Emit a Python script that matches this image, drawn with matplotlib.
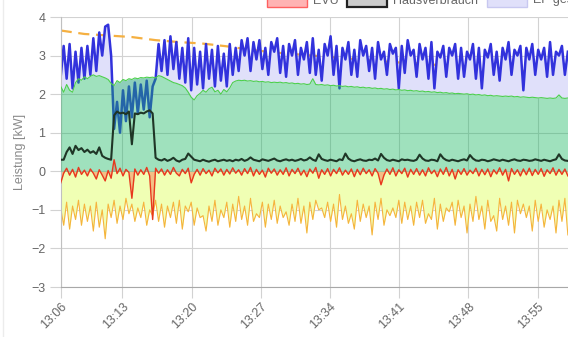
import matplotlib
matplotlib.use('Agg')
import matplotlib.pyplot as plt
from matplotlib.patches import Rectangle
from matplotlib.lines import Line2D
import numpy as np

plt.rcParams['font.family'] = ['Liberation Sans', 'DejaVu Sans']

# samples every 18 s, first one at 13:06:45
start_min = 6.75
step_min = 0.3

# all values in hundredths of kW
pv_total = [
    245, 325, 240, 330, 215, 310, 230, 320, 240, 325, 250, 345, 260, 360, 300, 375, 380, 300, 110, 180,
    100, 210, 130, 220, 140, 230, 150, 225, 160, 235, 140, 220, 240, 330, 260, 340, 250, 350, 265, 335,
    240, 320, 230, 345, 210, 320, 225, 310, 215, 330, 240, 315, 220, 325, 235, 305, 220, 330, 250, 320,
    260, 340, 300, 345, 260, 335, 290, 340, 265, 320, 250, 335, 310, 345, 255, 325, 245, 330, 300, 340,
    250, 320, 290, 335, 255, 345, 250, 315, 235, 330, 300, 350, 250, 325, 215, 320, 290, 335, 250, 315,
    245, 340, 300, 325, 260, 320, 240, 335, 290, 310, 250, 330, 305, 320, 215, 325, 255, 340, 300, 315,
    245, 330, 290, 320, 240, 335, 215, 310, 295, 325, 245, 320, 300, 330, 240, 320, 245, 310, 290, 330,
    240, 320, 215, 315, 295, 330, 250, 310, 235, 320, 290, 335, 250, 315, 300, 325, 210, 320, 290, 330,
    250, 315, 290, 320, 245, 335, 250, 310, 300, 325, 250, 310,
]
pv_roof = [
    220, 205, 225, 210, 205, 230, 240, 236, 245, 240, 246, 250, 246, 248, 245, 242, 238, 228, 222, 235,
    230, 238, 235, 240, 238, 242, 240, 243, 242, 244, 243, 244, 242, 248, 246, 242, 238, 234, 230, 228,
    225, 222, 216, 205, 192, 185, 196, 202, 210, 205, 214, 218, 206, 210, 200, 212, 206, 216, 230, 234,
    236, 235, 236, 234, 235, 233, 234, 232, 233, 231, 232, 230, 231, 230, 231, 229, 230, 228, 229, 227,
    228, 226, 227, 225, 226, 240, 225, 224, 225, 223, 224, 222, 223, 221, 222, 220, 221, 219, 220, 218,
    219, 217, 218, 216, 217, 215, 216, 214, 215, 213, 214, 212, 213, 211, 212, 210, 211, 209, 210, 208,
    209, 207, 208, 206, 207, 205, 206, 204, 205, 203, 204, 202, 203, 201, 202, 201, 200, 201, 199, 200,
    198, 199, 197, 198, 196, 197, 195, 196, 195, 194, 195, 194, 195, 193, 194, 192, 193, 192, 191, 192,
    191, 190, 191, 190, 189, 190, 189, 190, 198, 190, 189, 190,
]
house = [
    30, 30, 50, 62, 45, 66, 55, 60, 50, 56, 48, 52, 45, 62, 40, 35, 32, 30, 145, 155,
    150, 152, 148, 155, 70, 150, 148, 152, 150, 155, 158, 150, 35, 30, 28, 32, 27, 30, 35, 28,
    25, 30, 32, 46, 38, 30, 28, 26, 30, 27, 25, 28, 30, 26, 28, 30, 27, 29, 26, 30,
    28, 32, 27, 30, 36, 30, 28, 26, 31, 29, 27, 30, 33, 28, 26, 29, 31, 28, 30, 27,
    29, 32, 28, 30, 36, 30, 27, 44, 32, 29, 27, 30, 28, 26, 31, 29, 46, 33, 28, 26,
    29, 31, 28, 27, 30, 29, 33, 28, 45, 35, 29, 27, 30, 28, 26, 31, 29, 30, 28, 27,
    30, 43, 33, 28, 27, 30, 29, 26, 44, 34, 29, 27, 30, 28, 26, 29, 31, 28, 42, 33,
    28, 27, 30, 29, 26, 28, 31, 29, 27, 30, 28, 26, 29, 31, 28, 27, 30, 29, 27, 28,
    31, 29, 27, 30, 28, 26, 29, 31, 44, 32, 28, 27,
]
grid = [
    -30, -5, 8, -10, 5, -15, 10, -8, 3, -12, 6, -5, -20, 4, -10, -25, 2, -18, 30, -6,
    8, -12, 5, -3, -70, 6, -10, 4, -8, 10, -12, -125, 8, -5, 6, -10, 4, -8, 10, -5,
    -12, 5, -6, 8, -30, -8, 5, -10, 7, -6, 3, -12, 8, -4, 6, -10, 5, -7, 9, -5,
    4, -10, 7, -6, 10, -12, 5, -8, 3, -15, 8, -5, 6, -10, 4, -8, 9, -12, 5, -6,
    8, -10, 3, -14, 6, -5, 10, -18, 4, -8, 7, -12, 5, -6, 9, -10, 3, -8, 6, -14,
    5, -9, 8, -6, 4, -12, 7, -5, -35, -10, 6, -8, 9, -12, 4, -6, 8, -15, 5, -8,
    7, -10, 4, -12, 9, -6, 3, -14, 6, -8, 10, -12, 5, -20, 4, -8, 7, -10, 3, -6,
    8, -12, 5, -9, 6, -14, 4, -7, 9, -10, 5, -25, 7, -8, 4, -12, 6, -9, 8, -11,
    5, -8, 7, -13, 4, -6, 9, -10, 5, -8, 6, -12,
]
battery = [
    -95, -140, -80, -150, -90, -125, -75, -140, -85, -130, -90, -155, -80, -145, -100, -175, -85, -120, -75, -135,
    -90, -125, -70, -110, -85, -130, -95, -120, -80, -140, -100, -115, -75, -130, -85, -145, -90, -120, -80, -135,
    -75, -150, -90, -105, -80, -140, -95, -120, -115, -155, -90, -130, -75, -140, -100, -120, -80, -145, -85, -130,
    -65, -125, -90, -140, -70, -130, -110, -120, -80, -145, -85, -125, -75, -135, -90, -120, -105, -140, -85, -130,
    -70, -135, -90, -160, -80, -125, -75, -100, -95, -120, -80, -130, -85, -145, -60, -125, -90, -135, -110, -150,
    -75, -130, -85, -120, -90, -165, -80, -125, -70, -140, -100, -115, -95, -120, -75, -135, -80, -125, -90, -140,
    -80, -120, -75, -135, -110, -125, -70, -150, -85, -130, -95, -105, -80, -140, -75, -120, -90, -160, -85, -130,
    -65, -125, -90, -150, -75, -130, -115, -155, -70, -125, -90, -140, -80, -160, -75, -110, -85, -120, -90, -155,
    -75, -130, -85, -145, -100, -125, -90, -160, -75, -130, -70, -165,
]
# dashed line, one value every 8th sample
soc = [365, 356, 352, 348, 340, 335, 331, 324, 315, 308, 303, 298,
       293, 288, 283, 280, 275, 270, 266, 262, 258, 256]

tick_minutes = [13, 20, 27, 34, 41, 48, 55]
legend_labels = ['EVU', 'Hausverbrauch', 'EP gesamt']

for s in (pv_total, pv_roof, grid, battery):
    assert len(s) == len(house), len(s)


def kw(values):
    return np.array(values) / 100.0


W, H = 568, 337
t = start_min + step_min * np.arange(len(house))
t_soc = t[::8]

fig = plt.figure(figsize=(W / 100, H / 100), dpi=100)
ax = fig.add_axes([60.7 / W, 50 / H, (W - 60.7) / W, 270 / H])

total = kw(pv_total)
roof = kw(pv_roof)
zero = np.zeros(len(t))

ax.fill_between(t, kw(battery), zero, color='#f0ffb4', lw=0, zorder=1)
ax.plot(t_soc, kw(soc), color='#f5b041', lw=1.6, dashes=(5, 3), zorder=1.1)
# lavender band hides the dashed line where it runs inside it
ax.fill_between(t, roof, total, color='#e0e0fa', lw=0, zorder=1.3)
ax.fill_between(t, kw(grid), zero, color=(1, 0, 0, 0.25), lw=0, zorder=1.4)
ax.plot(t, total, color='#3232dc', lw=1.8, zorder=2)
ax.plot(t, kw(battery), color='#f5b43c', lw=0.8, zorder=2)
ax.fill_between(t, roof, zero, color=(17 / 255, 180 / 255, 92 / 255, 0.4), lw=0, zorder=3)
ax.plot(t, roof, color='#4cd04c', lw=0.8, zorder=3.1)
ax.plot(t, kw(house), color='#1f3526', lw=1.5, zorder=3.5)
ax.plot(t, kw(grid), color='#e8381e', lw=1.0, zorder=3.6)

ax.set_xlim(t[0], start_min + (W - 60.7) / 9.886)
ax.set_ylim(-3, 4)
ax.set_yticks(range(-3, 5))
xt = [t[0]] + tick_minutes
ax.set_xticks(xt)
ax.set_xticklabels(['13:%02d' % int(m) for m in xt], rotation=45, ha='right', va='top',
                   rotation_mode='anchor')

ax.set_axisbelow(True)
ax.grid(color='#d2d2d2', lw=0.8)
ax.tick_params(length=8, color='#d2d2d2', labelcolor='#666666', labelsize=9, pad=3)
ax.tick_params(axis='x', pad=2)
for side in ('top', 'right'):
    ax.spines[side].set_visible(False)
ax.spines['left'].set_color('#c0c0c0')
ax.spines['bottom'].set_color('#a8a8a8')
ax.set_ylabel('Leistung [kW]', color='#8a8a8a', fontsize=9)
ax.yaxis.set_label_coords((26 - 60.7) / (W - 60.7), 0.5)

# legend row, mostly cut off by the top edge
legend_style = [
    ((1, 0.7, 0.7), '#ff6060', 1.0),
    ((0.8, 0.8, 0.8), '#222222', 1.6),
    ((0.88, 0.88, 0.98), '#c8c8f0', 1.0),
]
for x0, label, (face, edge, lw) in zip([267, 347, 487], legend_labels, legend_style):
    fig.add_artist(Rectangle((x0 / W, (H - 6.5) / H), 40 / W, 12 / H, transform=fig.transFigure,
                             facecolor=face, edgecolor=edge, lw=lw))
    fig.text((x0 + 46) / W, (H - 0.5) / H, label, color='#666666', fontsize=9, va='center')

fig.add_artist(Line2D([3.5 / W, 3.5 / W], [0, 1], transform=fig.transFigure, color='#ececec', lw=1))

fig.savefig('out.png', dpi=100)
